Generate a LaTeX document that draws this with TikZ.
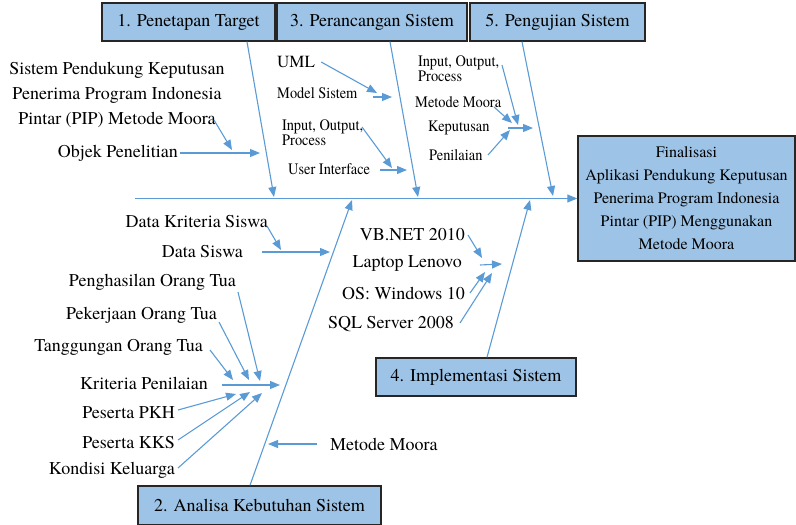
\documentclass[tikz,border=0pt]{standalone}
\usepackage{fontspec}
\IfFontExistsTF{texgyretermes-regular.otf}
 {\setmainfont{texgyretermes-regular.otf}
  \newfontfamily\narrowfont[FakeStretch=0.9]{texgyretermes-regular.otf}}
 {\setmainfont{Liberation Serif}
  \newfontfamily\narrowfont[FakeStretch=0.9]{Liberation Serif}}
\usetikzlibrary{arrows.meta}
\definecolor{boxblue}{RGB}{157,195,230}
\definecolor{lineblue}{RGB}{91,155,213}
\begin{document}
\begin{tikzpicture}[x=1pt,y=-1pt,
 box/.style={draw=black!85, line width=1.4pt, fill=boxblue, inner sep=0pt, font=\fontsize{18}{20}\selectfont},
 lbl/.style={inner sep=0pt, font=\fontsize{18}{25}\selectfont},
 sml/.style={inner sep=0pt, align=left, font=\narrowfont\fontsize{16}{15}\selectfont},
 arr/.style={draw=lineblue, line width=1.1pt, -{Triangle[length=10pt,width=8pt]}},
]
\useasboundingbox (0,0) rectangle (796,525);

% boxes
\node[box, minimum width=173pt, minimum height=38pt] (b1) at (188.5,22) {1. Penetapan Target};
\node[box, minimum width=190pt, minimum height=38pt] (b3) at (372,22) {3. Perancangan Sistem};
\node[box, minimum width=175pt, minimum height=38pt] (b5) at (557.5,22) {5. Pengujian Sistem};
\node[box, minimum width=200pt, minimum height=38pt] (b4) at (476,377) {4. Implementasi Sistem};
\node[box, minimum width=243pt, minimum height=39pt] (b2) at (259.5,505.5) {2. Analisa Kebutuhan Sistem};
\node[box, minimum width=217pt, minimum height=125pt, align=center, font=\fontsize{16}{23}\selectfont] (fin) at (686.5,198.5)
  {Finalisasi\\Aplikasi Pendukung Keputusan\\Penerima Program Indonesia\\Pintar (PIP) Menggunakan\\Metode Moora};

% spine
\coordinate (s0) at (135,198.5);
\draw[arr] (s0) -- (fin.west);

% bones
\coordinate (e1) at (274,197);
\coordinate (e3) at (418,197);
\coordinate (e5) at (553,196);
\coordinate (e2) at (352,200);
\coordinate (e4) at (530,200);
\draw[arr] ([xshift=58.5pt]b1.south) -- (e1);
\draw[arr] ([xshift=18pt]b3.south) -- (e3);
\draw[arr] ([xshift=-35.5pt]b5.south) -- (e5);
\draw[arr] ([xshift=-9.5pt]b2.north) -- (e2);
\draw[arr] ([xshift=11pt]b4.north) -- (e4);

% --- 1. Penetapan Target
\node[lbl, align=center] (spk) at (117,95) {Sistem Pendukung Keputusan\\Penerima Program Indonesia\\Pintar (PIP) Metode Moora};
\node[lbl, anchor=east] (obj) at (178,153) {Objek Penelitian};
\coordinate (p1a) at (214,120); \coordinate (p1b) at (232,150);
\coordinate (p1c) at (260,153);
\draw[arr] (p1a) -- (p1b);
\draw[arr] ([xshift=2pt]obj.east) -- (p1c);

% --- 3. Perancangan Sistem
\node[lbl, anchor=west, font=\fontsize{17}{17}\selectfont] (uml) at (277,62) {UML};
\node[sml, anchor=west] (mod) at (277,93) {Model Sistem};
\node[sml, anchor=west] (iop3) at (282,132.5) {Input, Output,\\Process};
\node[sml, anchor=west] (ui) at (288,169) {User Interface};
\coordinate (u1) at (377,93);
\coordinate (m0) at (373,97); \coordinate (m1) at (392,97);
\coordinate (i0) at (362,127); \coordinate (i1) at (392,168);
\coordinate (ui0) at (380,170); \coordinate (ui1) at (407,170);
\draw[arr] ([xshift=6pt]uml.east) -- (u1);
\draw[arr] (m0) -- (m1);
\draw[arr] (i0) -- (i1);
\draw[arr] (ui0) -- (ui1);

% --- 5. Pengujian Sistem
\node[sml, anchor=west] (iop5) at (418,69) {Input, Output,\\Process};
\node[sml, anchor=west] (mm5) at (415,102) {Metode Moora};
\node[sml, anchor=west] (kep) at (428,128) {Keputusan};
\node[sml, anchor=west] (pen) at (429,155) {Penilaian};
\coordinate (r1a) at (502,65); \coordinate (r1b) at (518,125);
\coordinate (r2a) at (494,107); \coordinate (r2b) at (512,123);
\coordinate (r3a) at (508,128); \coordinate (r3b) at (533,128);
\coordinate (r4a) at (488,155); \coordinate (r4b) at (510,130);
\draw[arr] (r1a) -- (r1b);
\draw[arr] (r2a) -- (r2b);
\draw[arr] (r3a) -- (r3b);
\draw[arr] (r4a) -- (r4b);

% --- 2. Analisa Kebutuhan Sistem
\node[lbl, anchor=east] (dks) at (268,222) {Data Kriteria Siswa};
\node[lbl, anchor=east] (ds) at (243,252) {Data Siswa};
\node[lbl, anchor=east] (pot) at (236,282) {Penghasilan Orang Tua};
\node[lbl, anchor=east] (pek) at (217,315) {Pekerjaan Orang Tua};
\node[lbl, anchor=east] (tot) at (203,347) {Tanggungan Orang Tua};
\node[lbl, anchor=east] (kp) at (208,383) {Kriteria Penilaian};
\node[lbl, anchor=east] (pkh) at (175,413) {Peserta PKH};
\node[lbl, anchor=east] (kks) at (175,443) {Peserta KKS};
\node[lbl, anchor=east] (kk) at (175,470) {Kondisi Keluarga};
\node[lbl, anchor=west] (mm2) at (330,444) {Metode Moora};
\coordinate (d1a) at (267,226); \coordinate (d1b) at (281,250);
\coordinate (d2a) at (262,252); \coordinate (d2b) at (330,252);
\coordinate (q1a) at (238,292); \coordinate (q1b) at (260,381);
\coordinate (q2a) at (219,322); \coordinate (q2b) at (249,380);
\coordinate (q3a) at (210,350); \coordinate (q3b) at (233,380);
\coordinate (q4a) at (222,385); \coordinate (q4b) at (280,385);
\coordinate (q5b) at (236,394);
\coordinate (q6b) at (250,392);
\coordinate (q7b) at (262,393);
\coordinate (mmb) at (268,444);
\draw[arr] (d1a) -- (d1b);
\draw[arr] (d2a) -- (d2b);
\draw[arr] (q1a) -- (q1b);
\draw[arr] (q2a) -- (q2b);
\draw[arr] (q3a) -- (q3b);
\draw[arr] (q4a) -- (q4b);
\draw[arr] ([xshift=3pt,yshift=3pt]pkh.east) -- (q5b);
\draw[arr] ([xshift=3pt,yshift=3pt]kks.east) -- (q6b);
\draw[arr] ([xshift=3pt,yshift=2pt]kk.east) -- (q7b);
\draw[arr] ([xshift=-13pt]mm2.west) -- (mmb);

% --- 4. Implementasi Sistem
\node[lbl, anchor=east] (vb) at (465,235) {VB.NET 2010};
\node[lbl, anchor=east] (lap) at (462,263) {Laptop Lenovo};
\node[lbl, anchor=east] (os) at (465,293) {OS: Windows 10};
\node[lbl, anchor=east] (sql) at (454,324) {SQL Server 2008};
\coordinate (v1a) at (468,235); \coordinate (v1b) at (482,258);
\coordinate (v2a) at (480,265); \coordinate (v2b) at (502,264);
\coordinate (v3a) at (470,293); \coordinate (v3b) at (485,272);
\coordinate (v4a) at (460,323); \coordinate (v4b) at (492,273);
\draw[arr] (v1a) -- (v1b);
\draw[arr] (v2a) -- (v2b);
\draw[arr] (v3a) -- (v3b);
\draw[arr] (v4a) -- (v4b);
\end{tikzpicture}
\end{document}
